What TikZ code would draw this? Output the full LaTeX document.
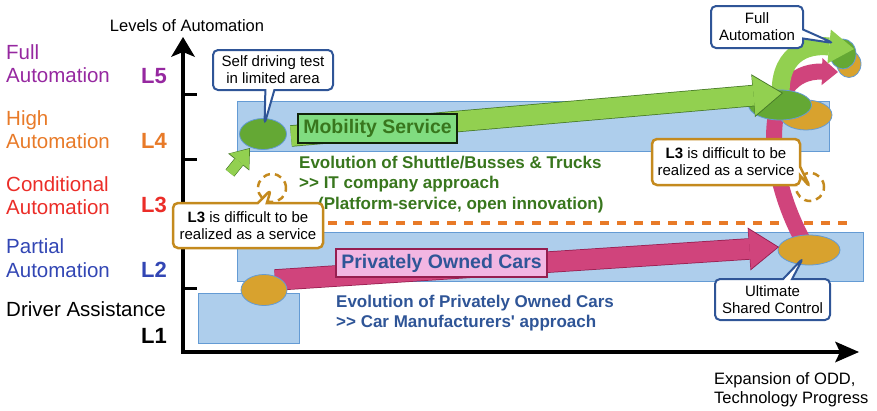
\documentclass[tikz,border=0pt]{standalone}
\usepackage{fontspec}
\setmainfont{Liberation Sans}
\usetikzlibrary{arrows.meta,shapes.geometric,shapes.callouts}
\definecolor{lvpurple}{RGB}{150,40,160}
\definecolor{lvorange}{RGB}{232,122,40}
\definecolor{lvred}{RGB}{235,45,40}
\definecolor{lvblue}{RGB}{50,70,180}
\definecolor{bandfill}{RGB}{174,206,236}
\definecolor{bandline}{RGB}{100,155,212}
\definecolor{svcgreen}{RGB}{146,208,80}
\definecolor{svcline}{RGB}{70,120,40}
\definecolor{svcdark}{RGB}{100,168,52}
\definecolor{svctext}{RGB}{56,118,29}
\definecolor{svclabel}{RGB}{128,220,128}
\definecolor{carpink}{RGB}{208,68,124}
\definecolor{carline}{RGB}{150,30,80}
\definecolor{cargold}{RGB}{216,162,46}
\definecolor{cartext}{RGB}{47,85,151}
\definecolor{carlabel}{RGB}{242,182,226}
\definecolor{noteblue}{RGB}{47,85,151}
\definecolor{notegold}{RGB}{196,138,30}

\begin{document}
\begin{tikzpicture}[x=1pt, y=-1pt,
  lvtext/.style={anchor=north west, inner sep=0pt, align=left, font=\fontsize{20.5}{23.5}\selectfont},
  lvnum/.style={anchor=base east, inner sep=0pt, font=\fontsize{22}{24}\selectfont\bfseries},
  axistext/.style={inner sep=0pt, font=\fontsize{16.5}{19.5}\selectfont},
  axis/.style={line width=4.5pt, {Stealth[length=20pt,width=24pt,inset=5pt,line width=0pt]}-{Stealth[length=24pt,width=21pt,inset=5pt,line width=0pt]}},
  band/.style={draw=bandline, fill=bandfill, line width=0.8pt},
  l3line/.style={draw=lvorange, line width=3.5pt, dash pattern=on 9pt off 8pt},
  blob/.style={ellipse, draw=bandline, line width=0.8pt, inner sep=0pt},
  svcarrow/.style={draw=svcgreen, line width=20pt, shorten >=1.5pt, -{Triangle[length=28pt,width=40pt,line width=0pt]},
    preaction={draw=svcline, line width=21.5pt, shorten >=0pt, -{Triangle[length=30pt,width=43pt,line width=0pt]}}},
  cararrow/.style={draw=carpink, line width=20pt, shorten >=1.5pt, -{Triangle[length=28pt,width=40pt,line width=0pt]},
    preaction={draw=carline, line width=21.5pt, shorten >=0pt, -{Triangle[length=30pt,width=43pt,line width=0pt]}}},
  jumparrow/.style={draw=svcgreen, line width=10pt, shorten >=1.2pt, -{Triangle[length=16pt,width=25pt,line width=0pt]},
    preaction={draw=svcline, line width=11.2pt, shorten >=0pt, -{Triangle[length=18pt,width=27pt,line width=0pt]}}},
  svccurve/.style={draw=svcgreen, line width=18pt, -{Triangle[length=25pt,width=34pt,line width=0pt]}},
  carcurve/.style={draw=carpink, line width=16pt, -{Triangle[length=16pt,width=27pt,line width=0pt]}},
  tagbox/.style={rectangle, line width=1.5pt, inner sep=0pt, font=\fontsize{19.5}{22}\selectfont\bfseries},
  desc/.style={anchor=north west, inner sep=0pt, align=left, font=\fontsize{17}{20.5}\selectfont\bfseries},
  note/.style={rectangle callout, fill=white, line width=2pt, rounded corners=5pt, align=center, inner sep=2pt,
    font=\fontsize{15}{17}\selectfont, callout pointer width=9pt},
  dotring/.style={circle, draw=notegold, line width=2.5pt, dash pattern=on 7pt off 5pt, minimum size=28pt, inner sep=0pt}]
\useasboundingbox (0,0) rectangle (877,410);

% Bands
\draw[band] (237,101) rectangle (829,151);
\draw[band] (237,232) rectangle (863,281);
\draw[band] (198,293) rectangle (299,343);
\draw[l3line] (328,223) -- (847,223);

% Axes
\coordinate (origin) at (183,352);
\coordinate (ytop) at (183,37);
\coordinate (xend) at (859,352);
\draw[axis] (ytop) -- (origin) -- (xend);
\foreach \y in {94,159,224,288}
  \draw[line width=3pt] (183,\y) -- (197,\y);

% Level names
\node[lvtext, text=lvpurple] (l5name) at (6,44.3) {Full\\Automation};
\node[lvnum, text=lvpurple] (l5) at (167,83) {L5};
\node[lvtext, text=lvorange] (l4name) at (6,110) {High\\Automation};
\node[lvnum, text=lvorange] (l4) at (167,148) {L4};
\node[lvtext, text=lvred] (l3name) at (6,176) {Conditional\\Automation};
\node[lvnum, text=lvred] (l3) at (167,212) {L3};
\node[lvtext, text=lvblue] (l2name) at (6,238.5) {Partial\\Automation};
\node[lvnum, text=lvblue] (l2) at (167,277) {L2};
\node[lvtext, anchor=base west] (l1name) at (6,316) {Driver Assistance};
\node[lvnum] (l1) at (167,343) {L1};

\node[axistext, anchor=base] (ytitle) at (187,31) {Levels of Automation};
\node[axistext, anchor=north west, align=left] (xtitle) at (714,372) {Expansion of ODD,\\Technology Progress};

% Full automation
\node[blob, fill=cargold, minimum width=24pt, minimum height=27pt] (fullgold) at (849,64) {};
\node[blob, fill=svcdark, minimum width=26pt, minimum height=30pt] (fullgreen) at (843,54) {};

% Curved arrows
\coordinate (pinkstart) at (806,246);
\coordinate (pinkend) at (838,72);
\coordinate (greenstart) at (781,100);
\coordinate (greenend) at (854,49);
\draw[carcurve] (pinkstart) .. controls (762,170) and (760,70) .. (pinkend);
\draw[svccurve] (greenstart) .. controls (777,55) and (805,44) .. (greenend);

\node[blob, fill=cargold, minimum width=52pt, minimum height=30pt] (carmid) at (806,115) {};
\node[blob, fill=svcdark, minimum width=63pt, minimum height=30pt] (svcmid) at (780,105) {};
\node[blob, fill=cargold, minimum width=62pt, minimum height=30pt] (shared) at (809,250) {};

% Straight arrows
\coordinate (svctail) at (291,136);
\coordinate (svctip) at (783,93);
\coordinate (cartail) at (275,280);
\coordinate (cartip) at (779,247);
\coordinate (jumptail) at (230,173);
\coordinate (jumptip) at (250,148);
\draw[svcarrow] (svctail) -- (svctip);
\draw[cararrow] (cartail) -- (cartip);
\draw[jumparrow] (jumptail) -- (jumptip);

\node[blob, fill=svcdark, minimum width=47pt, minimum height=31pt] (svcstart) at (263,134) {};
\node[blob, fill=cargold, minimum width=46pt, minimum height=31pt] (carstart) at (264,290) {};

% Labels
\node[tagbox, draw=black!70!svctext, fill=svclabel, text=svctext, minimum width=159pt, minimum height=29pt] (svctag) at (377.5,128.5) {Mobility Service};
\node[tagbox, draw=carline, fill=carlabel, text=cartext, minimum width=211pt, minimum height=28pt] (cartag) at (441.5,263) {Privately Owned Cars};

\node[desc, text=svctext] (svcdesc) at (299,155.5) {Evolution of Shuttle/Busses \& Trucks\\{>}{>} IT company approach\\\hspace*{19pt}(Platform-service, open innovation)};
\node[desc, text=cartext] (cardesc) at (336,294.5) {Evolution of Privately Owned Cars\\{>}{>} Car Manufacturers\textquotesingle{} approach};

% Notes
\node[dotring] (l3dotl) at (272,188) {};
\node[dotring] (l3dotr) at (810,187) {};

\node[note, draw=noteblue, minimum width=120pt, minimum height=40pt, callout absolute pointer={(svcstart.center)}, callout pointer shorten=10pt] (selftest) at (273,70) {Self driving test\\in limited area};
\node[note, draw=noteblue, minimum width=92pt, minimum height=42pt, callout absolute pointer={(fullgreen.north west)}] (fullnote) at (757,27) {Full\\Automation};
\node[note, draw=notegold, line width=2.5pt, minimum width=150pt, minimum height=45pt, callout absolute pointer={(l3dotl.center)}, callout pointer shorten=2pt] (l3left) at (248,225.5) {\textbf{L3} is difficult to be\\realized as a service};
\node[note, draw=notegold, line width=2.5pt, minimum width=148pt, minimum height=46pt, callout absolute pointer={(l3dotr.center)}] (l3right) at (726,162) {\textbf{L3} is difficult to be\\realized as a service};
\node[note, draw=noteblue, minimum width=115pt, minimum height=41pt, callout absolute pointer={(shared.center)}, callout pointer shorten=10pt] (sharednote) at (772.5,299.5) {Ultimate\\Shared Control};
\end{tikzpicture}
\end{document}
